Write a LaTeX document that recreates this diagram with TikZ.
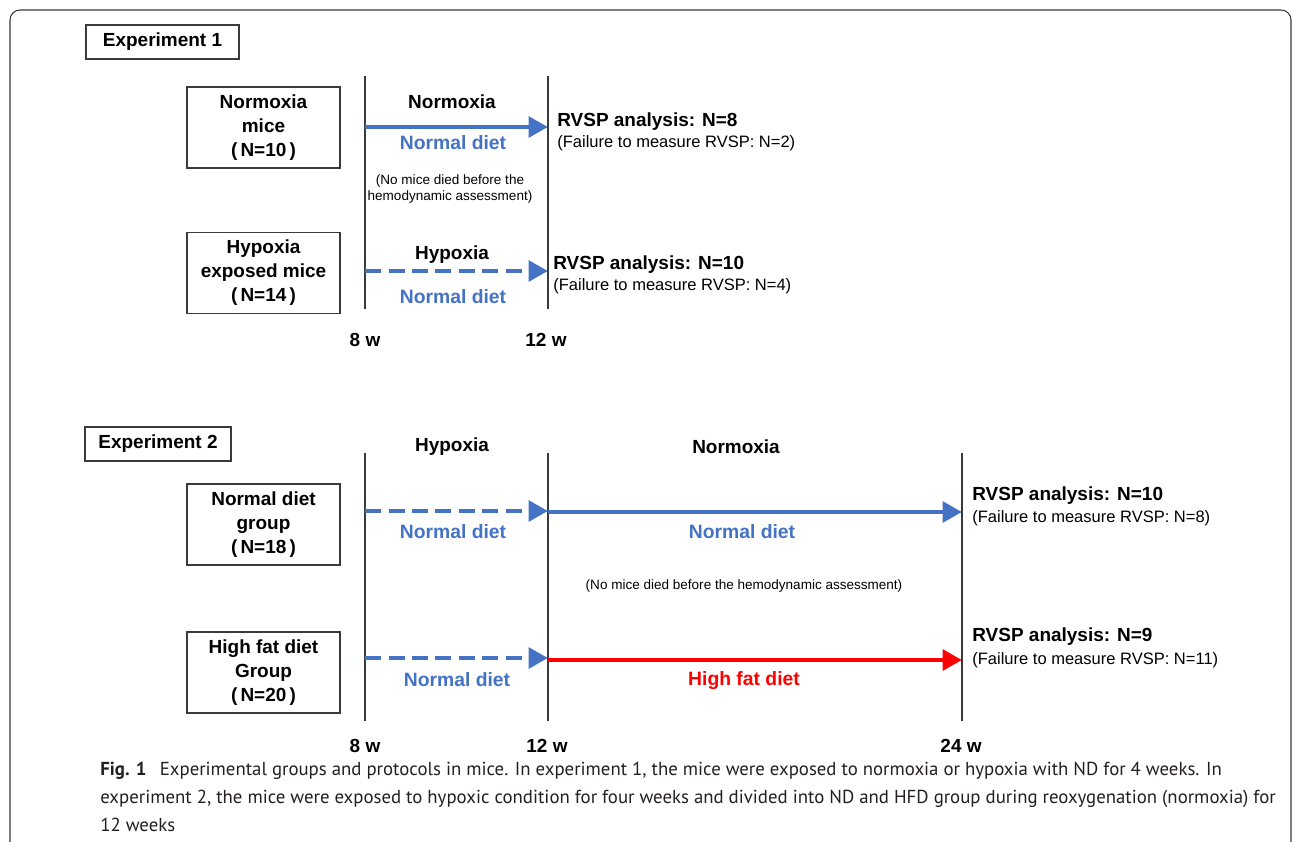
\documentclass[tikz,border=0pt]{standalone}
\usepackage{fontspec}
\setmainfont{Liberation Sans}
\newfontfamily\capfont{PT Sans}
\usepackage{tikz}
\usetikzlibrary{positioning,arrows.meta}
\definecolor{DBlue}{HTML}{4472C4}
\definecolor{DRed}{HTML}{FF0000}
\definecolor{LGrey}{HTML}{3A3A3A}
\definecolor{CapGrey}{HTML}{231F20}

\begin{document}
\begin{tikzpicture}[x=0.02cm, y=-0.02cm,
  every node/.style={align=center, font=\fontsize{10.8}{13.7}\selectfont\bfseries},
  gbox/.style={draw=LGrey, line width=0.6pt, minimum width=3.06cm, minimum height=1.62cm, inner sep=0pt},
  ebox/.style={draw=LGrey, line width=0.6pt, minimum height=0.68cm, inner sep=0pt},
  tline/.style={draw=LGrey, line width=0.8pt},
  arr/.style={line width=2.8pt, -{Triangle[length=11pt,width=11.5pt]}},
  dasharr/.style={arr, dash pattern=on 0.32cm off 0.15cm},
  diet/.style={text=DBlue, font=\fontsize{11}{13}\selectfont\bfseries},
  rvsp/.style={anchor=west, inner sep=0pt},
  fail/.style={anchor=west, inner sep=0pt, font=\fontsize{9.4}{11}\selectfont},
  note/.style={font=\fontsize{7.7}{9.6}\selectfont}]
\useasboundingbox (0,0) rectangle (1293,841);
\begin{scope}
\clip (0,0) rectangle (1293,841);
\draw[LGrey, line width=0.6pt, rounded corners=0.2cm] (10,880) -- (10,10) -- (1291,10) -- (1291,880);
\end{scope}

% Experiment 1
\node[ebox, minimum width=3.06cm] (exp1) at (162.5,42) {Experiment 1};
\node[gbox] (nmice) at (263.5,127.5) {Normoxia\\mice\\(\,N=10\,)};
\node[gbox] (hmice) at (263.5,273) {Hypoxia\\exposed mice\\(\,N=14\,)};

\coordinate (a8t) at (365,76);  \coordinate (a8b) at (365,309);
\coordinate (a12t) at (548,76); \coordinate (a12b) at (548,309);
\draw[tline] (a8t) -- (a8b);
\draw[tline] (a12t) -- (a12b);
\node (a8) at (365,340) {8 w};
\node (a12) at (546,340) {12 w};

\coordinate (n1s) at (365,127); \coordinate (n1e) at (548,127);
\coordinate (h1s) at (365,271); \coordinate (h1e) at (548,271);
\node (anorm) at (452,102) {Normoxia};
\node[diet] (adiet1) at (453,143) {Normal diet};
\draw[arr, DBlue] (n1s) -- (n1e);
\node[note] (anote) at (450,189) {(No mice died before the\\hemodynamic assessment)};
\node (ahyp) at (452,255) {Hypoxia};
\node[diet] (adiet2) at (453,297) {Normal diet};
\draw[dasharr, DBlue] (h1s) -- (h1e);

\node[rvsp] (ar1) at (557,122) {RVSP analysis: N=8};
\node[fail] (af1) at (557,143) {(Failure to measure RVSP: N=2)};
\node[rvsp] (ar2) at (553,265) {RVSP analysis: N=10};
\node[fail] (af2) at (553,286) {(Failure to measure RVSP: N=4)};

% Experiment 2
\node[ebox, minimum width=2.92cm] (exp2) at (158,444) {Experiment 2};
\node[gbox] (ndg) at (263.5,524.5) {Normal diet\\group\\(\,N=18\,)};
\node[gbox] (hfg) at (263.5,672.5) {High fat diet\\Group\\(\,N=20\,)};

\coordinate (b8t) at (365,453);  \coordinate (b8b) at (365,721);
\coordinate (b12t) at (548,453); \coordinate (b12b) at (548,721);
\coordinate (b24t) at (962,453); \coordinate (b24b) at (962,721);
\draw[tline] (b8t) -- (b8b);
\draw[tline] (b12t) -- (b12b);
\draw[tline] (b24t) -- (b24b);
\node (b8) at (365,746) {8 w};
\node (b12) at (547,746) {12 w};
\node (b24) at (961,746) {24 w};

\node (bhyp) at (452,447) {Hypoxia};
\node (bnorm) at (736,447) {Normoxia};

\coordinate (d1s) at (365,511); \coordinate (d1m) at (548,511);
\coordinate (d1n) at (548,512); \coordinate (d1e) at (962,512);
\draw[dasharr, DBlue] (d1s) -- (d1m);
\draw[arr, DBlue] (d1n) -- (d1e);
\node[diet] (bdiet1) at (453,532) {Normal diet};
\node[diet] (bdiet2) at (742,532) {Normal diet};
\node[note] (bnote) at (744,586) {(No mice died before the hemodynamic assessment)};

\coordinate (d2s) at (365,658); \coordinate (d2m) at (548,658);
\coordinate (d2n) at (548,660); \coordinate (d2e) at (962,660);
\draw[dasharr, DBlue] (d2s) -- (d2m);
\draw[arr, DRed] (d2n) -- (d2e);
\node[diet] (bdiet3) at (457,680) {Normal diet};
\node[diet, text=DRed] (bfat) at (744,681) {High fat diet};

\node[rvsp] (br1) at (972,496) {RVSP analysis: N=10};
\node[fail] (bf1) at (972,518) {(Failure to measure RVSP: N=8)};
\node[rvsp] (br2) at (972,637) {RVSP analysis: N=9};
\node[fail] (bf2) at (972,660) {(Failure to measure RVSP: N=11)};

% caption
\node[anchor=north west, inner sep=0pt, align=left, text=CapGrey,
  font=\capfont\fontsize{10.7}{15.9}\selectfont] (cap) at (100,762)
  {\textbf{Fig. 1}\hspace{0.7em}Experimental groups and protocols in mice. In experiment 1, the mice were exposed to normoxia or hypoxia with ND for 4 weeks. In\\
   experiment 2, the mice were exposed to hypoxic condition for four weeks and divided into ND and HFD group during reoxygenation (normoxia) for\\
   12 weeks};
\end{tikzpicture}
\end{document}
